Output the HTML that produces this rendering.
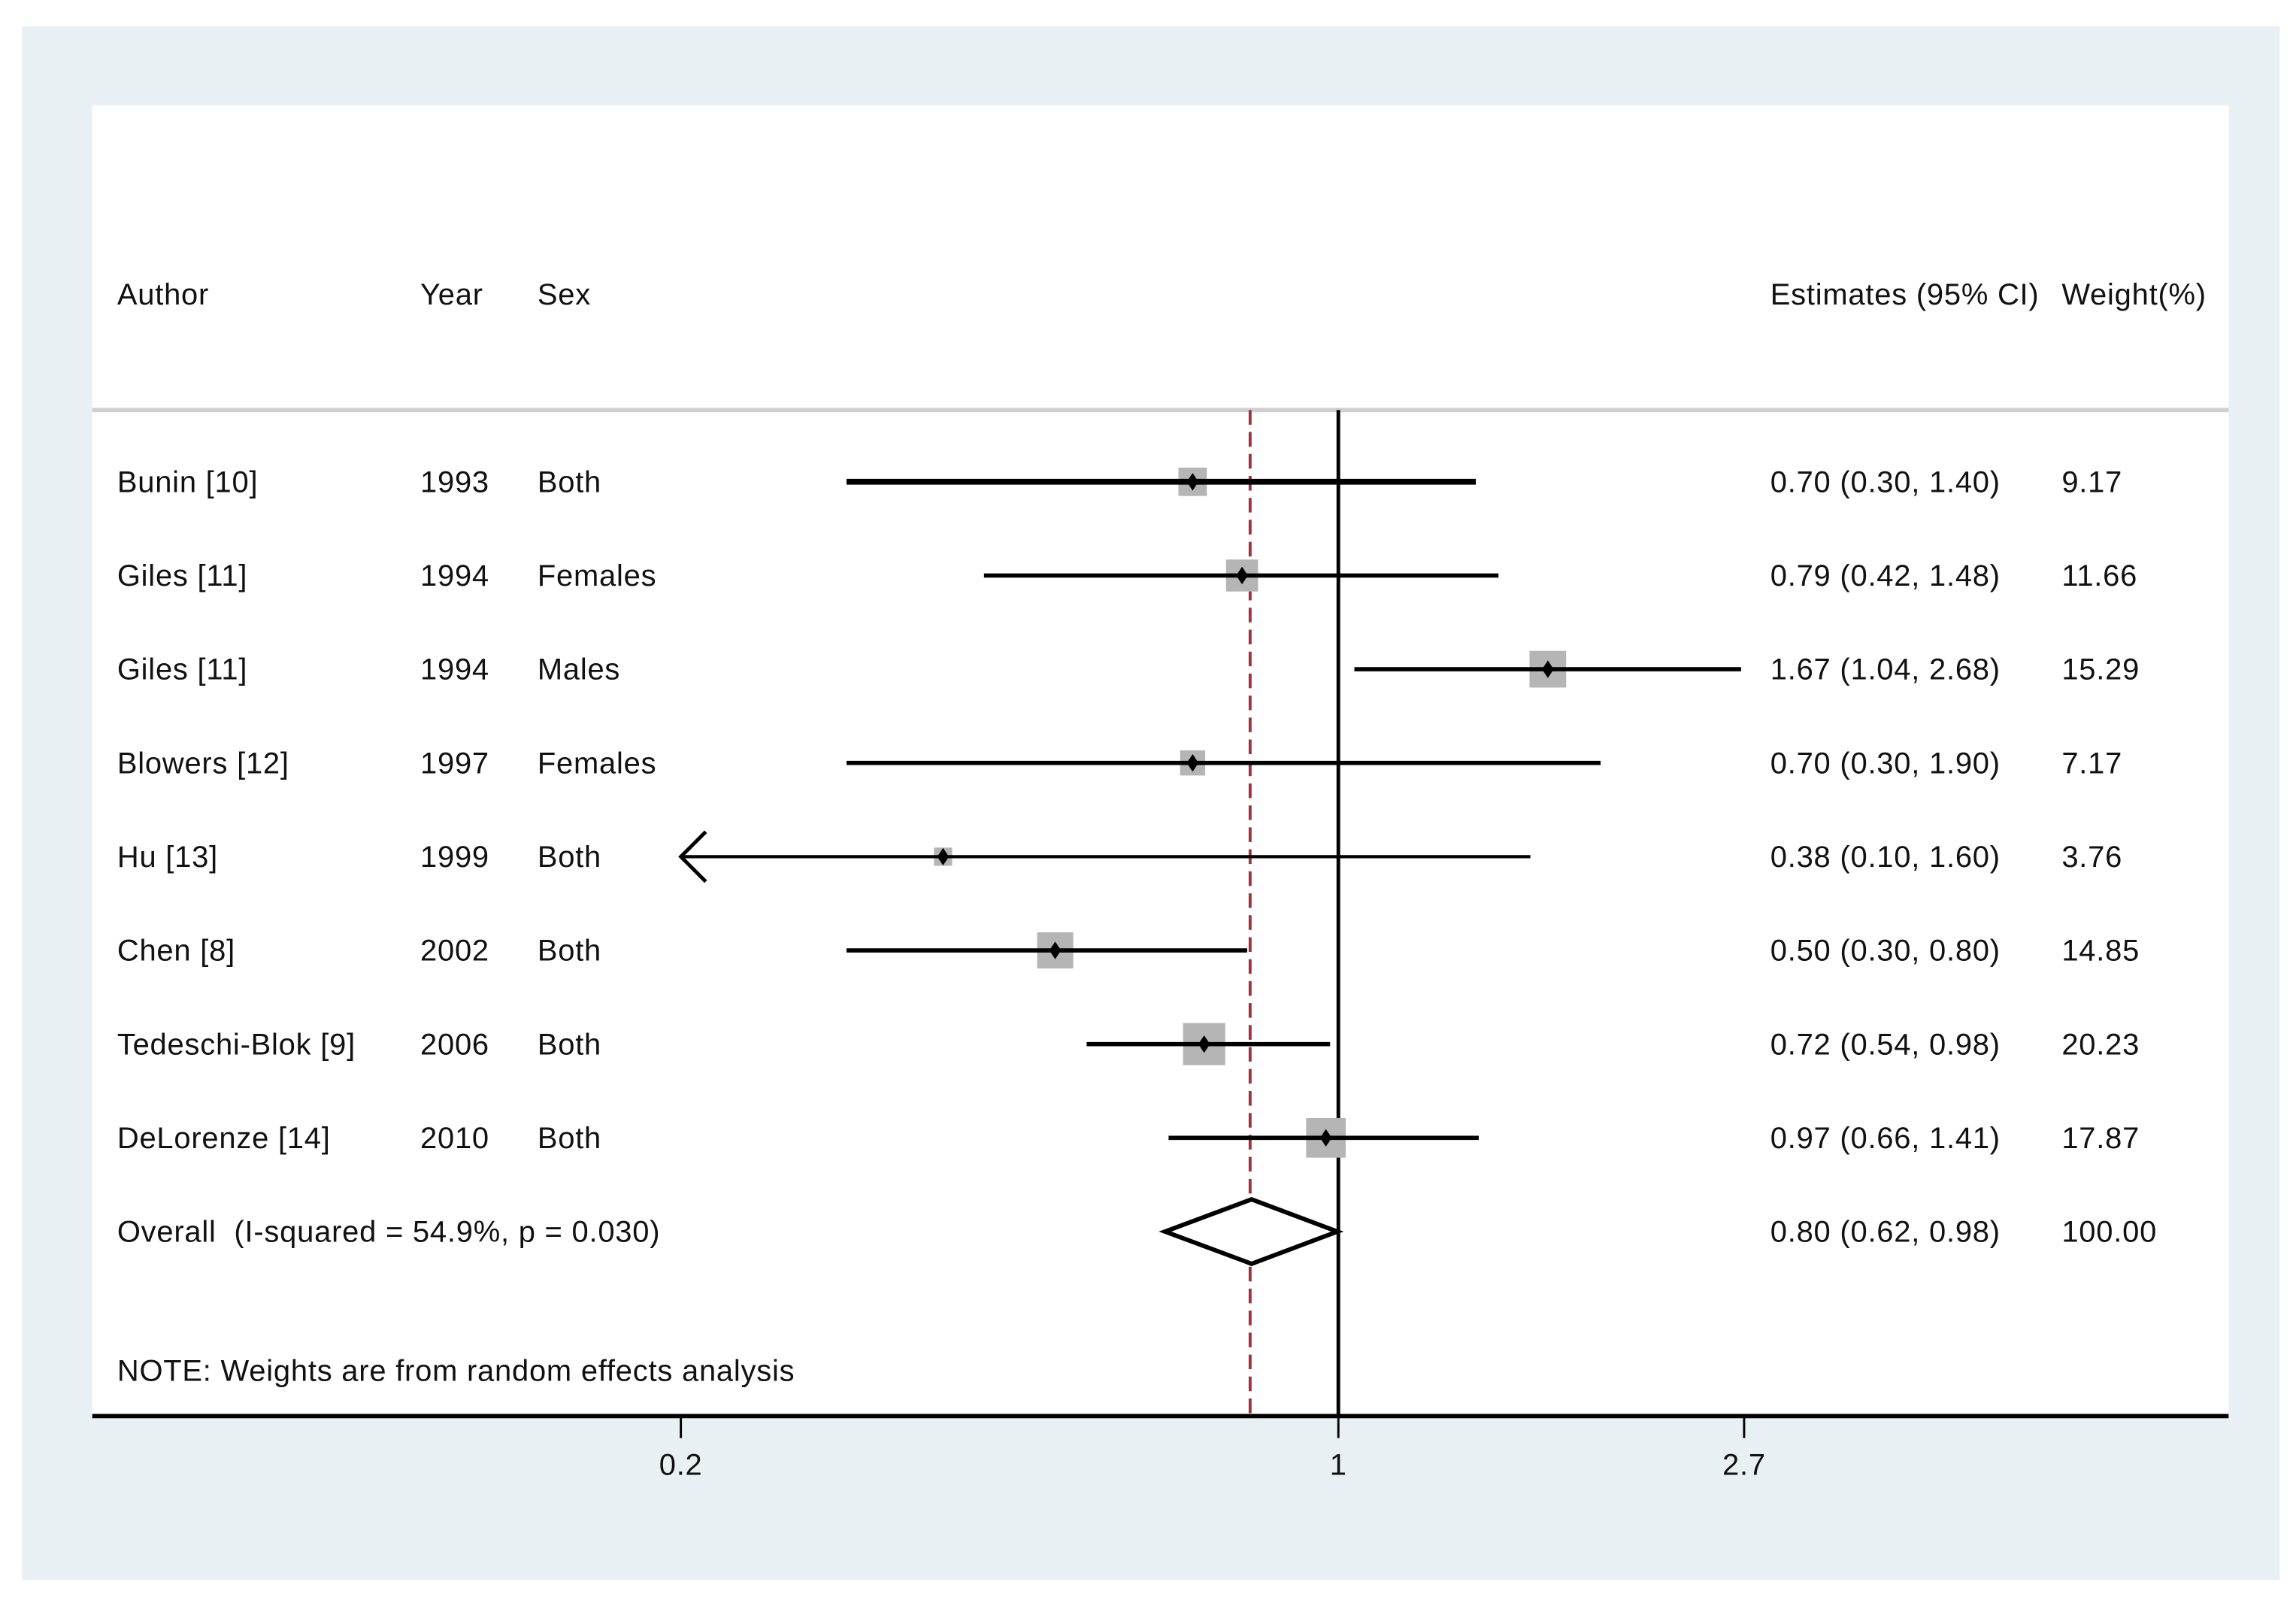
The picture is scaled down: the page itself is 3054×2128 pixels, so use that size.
<!DOCTYPE html>
<html><head><meta charset="utf-8">
<style>
html,body{margin:0;padding:0;background:#fff;}
svg{display:block;}
text{font-family:"Liberation Sans",Arial,sans-serif;font-size:20.5px;letter-spacing:0.4px;fill:#111;white-space:pre;}
</style></head>
<body>
<svg id="chart" width="3054" height="2128" viewBox="0 0 1568 1092.6" xmlns="http://www.w3.org/2000/svg">
  <rect x="15" y="18" width="1542" height="1061" fill="#e9f0f3"/>
  <rect x="63" y="72" width="1459" height="895" fill="#ffffff"/>
  <line x1="63" y1="280" x2="1522" y2="280" stroke="#cfcfcf" stroke-width="3"/>
  <g>
    <text x="80" y="208">Author</text>
    <text x="287" y="208">Year</text>
    <text x="367" y="208">Sex</text>
    <text x="1209" y="208">Estimates (95% CI)</text>
    <text x="1408" y="208">Weight(%)</text>
  </g>
  <g id="rows"></g>
  <g id="marks"></g>
  <text x="80" y="943">NOTE: Weights are from random effects analysis</text>
  <line x1="63" y1="967" x2="1522" y2="967" stroke="#000" stroke-width="3"/>
  <g id="ticks"></g>
</svg>
<script>
const authors = ["Bunin [10]","Giles [11]","Giles [11]","Blowers [12]","Hu [13]","Chen [8]","Tedeschi-Blok [9]","DeLorenze [14]"];
const years = ["1993","1994","1994","1997","1999","2002","2006","2010"];
const sexes = ["Both","Females","Males","Females","Both","Both","Both","Both"];
const estimates = [0.70,0.79,1.67,0.70,0.38,0.50,0.72,0.97];
const lowers = [0.30,0.42,1.04,0.30,0.10,0.30,0.54,0.66];
const uppers = [1.40,1.48,2.68,1.90,1.60,0.80,0.98,1.41];
const weights = [9.17,11.66,15.29,7.17,3.76,14.85,20.23,17.87];
const overallEst = [0.80];
const overallLo = [0.62];
const overallHi = [0.98];
const overallWeight = ["100.00"];
const tickValues = [0.2,1,2.7];
const tickLabels = ["0.2","1","2.7"];

const NS = "http://www.w3.org/2000/svg";
const xMin = 0.2;
function xs(v){ return 914 + Math.log(Math.max(v,xMin)) * 279; }
function ys(i){ return 329 + i*64; }
function mk(tag, attrs, parent, txt){
  const e = document.createElementNS(NS, tag);
  for (const k in attrs) e.setAttribute(k, attrs[k]);
  if (txt !== undefined) e.textContent = txt;
  parent.appendChild(e); return e;
}
const rows = document.getElementById('rows');
const marks = document.getElementById('marks');
const ticks = document.getElementById('ticks');

let nl = mk('line',{x1:xs(1),y1:280,x2:xs(1),y2:967,stroke:'#000','stroke-width':2.5},marks);


let ol = mk('line',{x1:xs(overallEst[0])+2,y1:280,x2:xs(overallEst[0])+2,y2:967,stroke:'#a3303f','stroke-width':2,'stroke-dasharray':'10,5'},marks);



const fmt = v => v.toFixed(2);
for (let i=0;i<authors.length;i++){
  const y = ys(i);
  let t;
  t = mk('text',{x:80,y:y+7},rows,authors[i]);
  
  
  t = mk('text',{x:287,y:y+7},rows,years[i]);
  
  
  t = mk('text',{x:367,y:y+7},rows,sexes[i]);
  
  
  t = mk('text',{x:1209,y:y+7},rows,fmt(estimates[i])+' ('+fmt(lowers[i])+', '+fmt(uppers[i])+')');
  
  
  t = mk('text',{x:1408,y:y+7},rows,fmt(weights[i]));
  
  

  const s = 6.4*Math.sqrt(weights[i]);
  const bx = mk('rect',{x:xs(estimates[i])-s/2,y:y-s/2,width:s,height:s,fill:'#b5b5b5'},marks);
  
  
  const sw = i===0 ? 4 : (i===4 ? 2.2 : 2.9);
  const ci = mk('line',{x1:xs(lowers[i]),y1:y,x2:xs(uppers[i]),y2:y,stroke:'#000','stroke-width':sw},marks);
  
  
  if (lowers[i] < xMin){
    const ax = xs(lowers[i]);
    const ar = mk('polyline',{points:(ax+17)+','+(y-17)+' '+ax+','+y+' '+(ax+17)+','+(y+17),fill:'none',stroke:'#000','stroke-width':2.5},marks);
    
    
  }
  const ex = xs(estimates[i]);
  const pt = mk('polygon',{points:ex+','+(y-6)+' '+(ex+4)+','+y+' '+ex+','+(y+6)+' '+(ex-4)+','+y,fill:'#000'},marks);
  
  
}
const oy = ys(authors.length);
let t2 = mk('text',{x:80,y:oy+7},rows,'Overall  (I-squared = 54.9%, p = 0.030)');


t2 = mk('text',{x:1209,y:oy+7},rows,fmt(overallEst[0])+' ('+fmt(overallLo[0])+', '+fmt(overallHi[0])+')');


t2 = mk('text',{x:1408,y:oy+7},rows,overallWeight[0]);


const cx = xs(overallEst[0])+3, lx = xs(overallLo[0])+15, rx = xs(overallHi[0])+5;
const dm = mk('polygon',{points:lx+','+oy+' '+cx+','+(oy-22)+' '+rx+','+oy+' '+cx+','+(oy+22),fill:'#fff',stroke:'#000','stroke-width':3},marks);



for (let k=0;k<tickValues.length;k++){
  const x = xs(tickValues[k]);
  const tk = mk('line',{x1:x,y1:967,x2:x,y2:982,stroke:'#000','stroke-width':1.5},ticks);
  
  
  const tl = mk('text',{x:x,y:1007,'text-anchor':'middle'},ticks,tickLabels[k]);
  
  
}
</script>
</body></html>
